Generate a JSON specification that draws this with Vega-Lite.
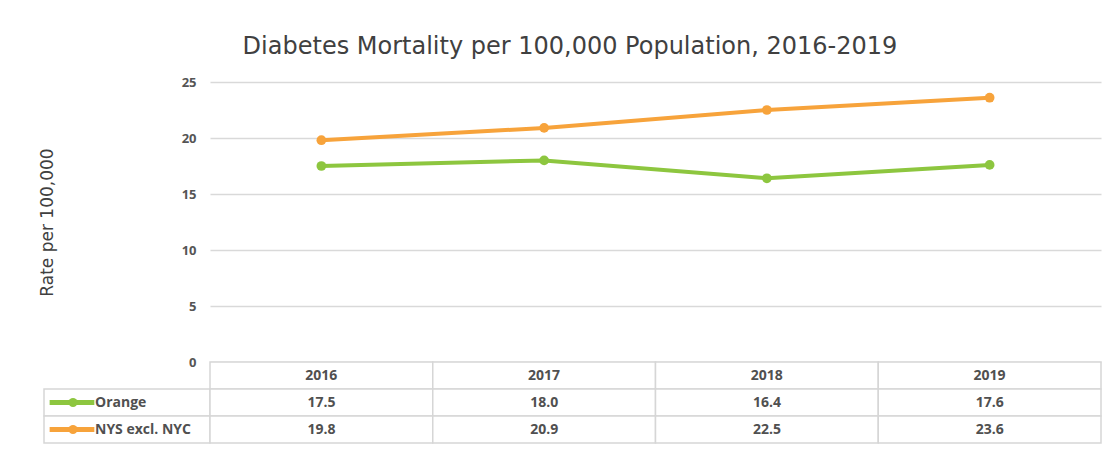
{
  "$schema": "https://vega.github.io/schema/vega-lite/v6.json",
  "background": "white",
  "padding": {"left": 38, "top": 35, "right": 15, "bottom": 7},
  "title": {"text": "Diabetes Mortality per 100,000 Population, 2016-2019", "fontSize": 24, "font": "DejaVu Sans", "fontWeight": "normal", "color": "#404040", "anchor": "middle", "offset": 17},
  "datasets": {
    "rates": [
      {"year": "2016", "series": "Orange", "rate": 17.5},
      {"year": "2017", "series": "Orange", "rate": 18.0},
      {"year": "2018", "series": "Orange", "rate": 16.4},
      {"year": "2019", "series": "Orange", "rate": 17.6},
      {"year": "2016", "series": "NYS excl. NYC", "rate": 19.8},
      {"year": "2017", "series": "NYS excl. NYC", "rate": 20.9},
      {"year": "2018", "series": "NYS excl. NYC", "rate": 22.5},
      {"year": "2019", "series": "NYS excl. NYC", "rate": 23.6}
    ]
  },
  "data": {"name": "rates"},
  "columns": 2,
  "spacing": 0,
  "bounds": "flush",
  "concat": [
    {
      "width": 166, "height": 280,
      "data": {"values": []},
      "mark": {"type": "text"},
      "encoding": {}
    },
    {
      "width": 891, "height": 280,
      "mark": {"type": "line", "strokeWidth": 4, "point": {"filled": true, "size": 95, "opacity": 1}},
      "encoding": {
        "x": {"field": "year", "type": "ordinal", "scale": {"type": "point", "padding": 0.5}, "axis": null},
        "y": {"field": "rate", "type": "quantitative", "scale": {"domain": [0, 25], "nice": false},
          "axis": {"values": [0, 5, 10, 15, 20, 25], "title": "Rate per 100,000", "titleFont": "DejaVu Sans", "titleFontSize": 17, "titleFontWeight": "normal", "titleColor": "#404040", "titlePadding": 125,
            "labelFontSize": 13, "labelFontWeight": "bold", "labelColor": "#555555", "labelPadding": 14,
            "domain": false, "ticks": false, "gridColor": "#d9d9d9", "gridWidth": 1.5}},
        "color": {"field": "series", "type": "nominal", "scale": {"domain": ["Orange", "NYS excl. NYC"], "range": ["#8dc63f", "#f7a33b"]}, "legend": null}
      }
    },
    {
      "width": 166, "height": 81,
      "transform": [{"filter": "datum.year == '2016'"}],
      "encoding": {
        "y": {"field": "series", "type": "nominal", "scale": {"type": "band", "domain": ["Year", "Orange", "NYS excl. NYC"], "paddingInner": 0, "paddingOuter": 0}, "axis": null}
      },
      "layer": [
        {"mark": {"type": "rect", "fill": "white", "stroke": "#d6d6d6", "strokeWidth": 1.5}},
        {"mark": {"type": "point", "shape": "stroke", "filled": false, "strokeWidth": 5, "size": 2000, "xOffset": -55, "opacity": 1},
          "encoding": {"color": {"field": "series", "type": "nominal", "legend": null}}},
        {"mark": {"type": "point", "shape": "circle", "filled": true, "size": 80, "xOffset": -54, "opacity": 1},
          "encoding": {"color": {"field": "series", "type": "nominal", "legend": null}}},
        {"mark": {"type": "text", "align": "left", "dx": -32, "fontSize": 14, "fontWeight": "bold", "color": "#505050"},
          "encoding": {"text": {"field": "series"}}}
      ]
    },
    {
      "width": 891, "height": 81,
      "encoding": {
        "x": {"field": "year", "type": "ordinal", "scale": {"type": "band", "paddingInner": 0, "paddingOuter": 0}, "axis": null}
      },
      "layer": [
        {"transform": [{"filter": "datum.series == 'Orange'"}],
          "mark": {"type": "rect", "fill": "white", "stroke": "#d6d6d6", "strokeWidth": 1.5},
          "encoding": {"y": {"datum": "Year", "type": "nominal", "scale": {"type": "band", "domain": ["Year", "Orange", "NYS excl. NYC"], "paddingInner": 0, "paddingOuter": 0}, "axis": null}}},
        {"mark": {"type": "rect", "fill": "white", "stroke": "#d6d6d6", "strokeWidth": 1.5},
          "encoding": {"y": {"field": "series", "type": "nominal", "axis": null}}},
        {"transform": [{"filter": "datum.series == 'Orange'"}],
          "mark": {"type": "text", "fontSize": 14, "fontWeight": "bold", "color": "#505050"},
          "encoding": {"y": {"datum": "Year", "type": "nominal"}, "text": {"field": "year"}}},
        {"mark": {"type": "text", "fontSize": 14, "fontWeight": "bold", "color": "#505050"},
          "encoding": {"y": {"field": "series", "type": "nominal"}, "text": {"field": "rate", "format": ".1f"}}}
      ]
    }
  ],
  "config": {"view": {"stroke": null}, "font": "Open Sans"}
}
